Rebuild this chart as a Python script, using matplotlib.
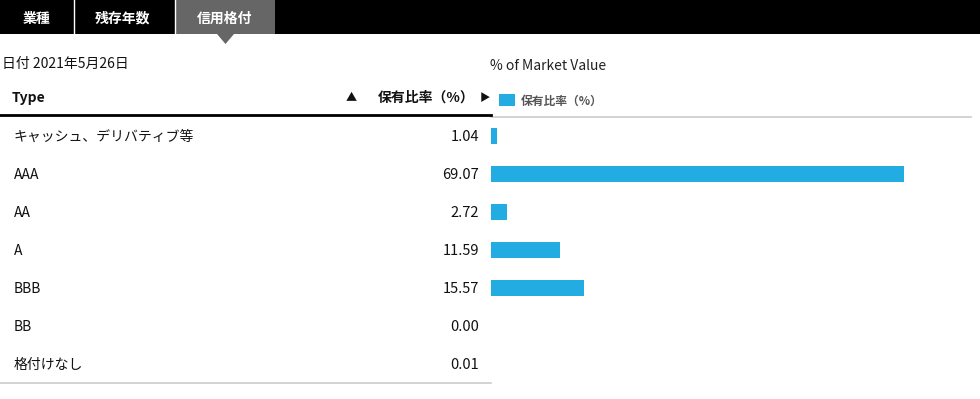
import matplotlib
matplotlib.use('Agg')
import matplotlib.pyplot as plt
from matplotlib.patches import Rectangle, Polygon
from matplotlib.lines import Line2D

plt.rcParams['font.family'] = ['Noto Sans CJK JP', 'DejaVu Sans']

# data
tabs = ['業種', '残存年数', '信用格付']
date_label = '日付 2021年5月26日'
col_type = 'Type'
col_value = '保有比率（%）'
chart_title = '% of Market Value'
categories = ['キャッシュ、デリバティブ等', 'AAA', 'AA', 'A', 'BBB', 'BB', '格付けなし']
values = [1.04, 69.07, 2.72, 11.59, 15.57, 0.00, 0.01]

bar_color = '#23ACE1'
line_gray = '#cccccc'

W, H = 980, 399
fig = plt.figure(figsize=(W / 100, H / 100), dpi=100)


# helpers: pixel position -> figure fraction
def fx(px):
    return px / W


def fy(py):
    return 1 - py / H


# tab strip
fig.patches.append(Rectangle((0, fy(34)), 1, 34 / H, transform=fig.transFigure,
                             facecolor='black', edgecolor='none'))
fig.patches.append(Rectangle((fx(175), fy(34)), fx(100), 34 / H, transform=fig.transFigure,
                             facecolor='#666666', edgecolor='none'))
fig.patches.append(Polygon([(fx(217), fy(34)), (fx(234), fy(34)), (fx(225.5), fy(44))],
                           closed=True, transform=fig.transFigure,
                           facecolor='#666666', edgecolor='none'))
for sx in [73.5, 174.5]:
    fig.add_artist(Line2D([fx(sx), fx(sx)], [fy(0), fy(34)], transform=fig.transFigure,
                          color='white', lw=1))
tab_centers = [37, 123, 225]
for t, cx in zip(tabs, tab_centers):
    fig.text(fx(cx), fy(18.5), t, color='white', fontsize=10, fontweight='bold',
             ha='center', va='center')

# date + chart title
fig.text(fx(2), fy(63.5), date_label, fontsize=10, color='#111111', ha='left', va='center')
fig.text(fx(490), fy(66.5), chart_title, fontsize=10, color='#222222', ha='left', va='center')

# table header
fig.text(fx(12), fy(98), col_type, fontsize=10, fontweight='bold', color='#111111',
         ha='left', va='center')
fig.text(fx(351), fy(98), '▲', fontsize=8, color='#111111', ha='center', va='center')
fig.text(fx(475), fy(98), col_value, fontsize=10, fontweight='bold', color='#111111',
         ha='right', va='center')
fig.text(fx(485), fy(98), '▶', fontsize=7.5, color='#111111', ha='center', va='center')
fig.add_artist(Line2D([0, fx(491)], [fy(114.5), fy(114.5)], transform=fig.transFigure,
                      color='black', lw=2))

# legend
fig.patches.append(Rectangle((fx(499), fy(106)), fx(16), 12 / H, transform=fig.transFigure,
                             facecolor=bar_color, edgecolor='none'))
fig.text(fx(521), fy(101), col_value, fontsize=8.5, fontweight='bold', color='#555555',
         ha='left', va='center')

top, bottom = 117, 383
n = len(categories)

# table rows
ax_t = fig.add_axes([0, fy(bottom), fx(491), (bottom - top) / H])
ax_t.set_xlim(0, 491)
ax_t.set_ylim(n - 0.5, -0.5)
for i, (c, v) in enumerate(zip(categories, values)):
    ax_t.text(14, i + 0.02, c, fontsize=10, color='#111111', ha='left', va='center')
    ax_t.text(479, i + 0.02, f'{v:.2f}', fontsize=10.5, color='#111111', ha='right', va='center')
for s in ['top', 'left', 'right']:
    ax_t.spines[s].set_visible(False)
ax_t.spines['bottom'].set_color(line_gray)
ax_t.spines['bottom'].set_linewidth(1.2)
ax_t.set_xticks([])
ax_t.set_yticks([])
ax_t.patch.set_alpha(0)

# bars
ax = fig.add_axes([fx(491), fy(bottom), fx(480), (bottom - top) / H])
ax.barh(range(n), values, height=0.42, color=bar_color)
ax.set_xlim(0, 80.3)
ax.set_ylim(n - 0.5, -0.5)
for s in ['bottom', 'left', 'right']:
    ax.spines[s].set_visible(False)
ax.spines['top'].set_color(line_gray)
ax.spines['top'].set_linewidth(1.2)
ax.set_xticks([])
ax.set_yticks([])
ax.patch.set_alpha(0)

fig.savefig('out.png', dpi=100)
